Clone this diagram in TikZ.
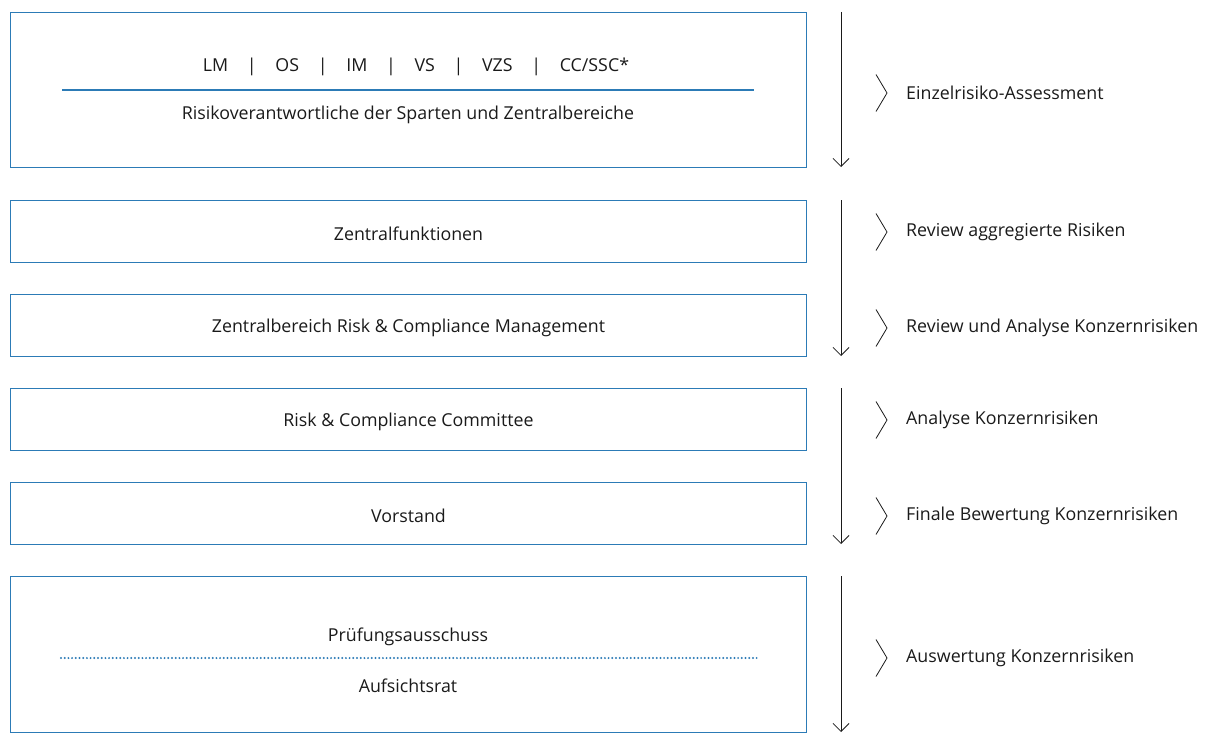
\documentclass[tikz,border=0pt]{standalone}
\usepackage{fontspec}
\setmainfont{Open Sans}
\usetikzlibrary{arrows.meta,calc}
\definecolor{boxblue}{HTML}{2C7BB6}
\definecolor{txt}{HTML}{1A1A1A}
\tikzset{
  x=1pt, y=-1pt,
  stage/.style={draw=boxblue, line width=1pt, minimum width=796pt, anchor=north west, inner sep=0pt},
  lbl/.style={text=txt, font=\fontsize{17.8}{20}\selectfont, inner sep=0pt, yshift=-2pt},
  flow/.style={draw=txt, line width=0.8pt, -{Straight Barb[length=8pt, width=16pt, line width=0.8pt]}},
  chev/.style={draw=txt, line width=0.8pt}
}
\newcommand{\chevron}[1]{\draw[chev] ($(#1.west)+(-30,-18.5)$) -- ++(11,18.5) -- ++(-11,18.5);}
\newcommand{\sep}{\hspace{1.05em}|\hspace{1.05em}}
\begin{document}
\begin{tikzpicture}
\useasboundingbox (0,0) rectangle (1206,752);
% boxes
\node[stage, minimum height=155pt] (b1) at (10,12) {};
\node[stage, minimum height=62pt] (b2) at (10,200) {};
\node[stage, minimum height=62pt] (b3) at (10,294) {};
\node[stage, minimum height=62pt] (b4) at (10,388) {};
\node[stage, minimum height=62pt] (b5) at (10,482) {};
\node[stage, minimum height=156pt] (b6) at (10,576) {};
% box texts
\node[lbl] (t1a) at (416,65) {LM\sep OS\sep IM\sep VS\sep VZS\sep CC/SSC*};
\coordinate (l1a) at (62,90);
\coordinate (l1b) at (754,90);
\draw[boxblue, line width=1.2pt] (l1a) -- (l1b);
\node[lbl] (t1b) at (408,113) {Risikoverantwortliche der Sparten und Zentralbereiche};
\node[lbl] (t2) at (b2.center) {Zentralfunktionen};
\node[lbl] (t3) at (b3.center) {Zentralbereich Risk \& Compliance Management};
\node[lbl] (t4) at (b4.center) {Risk \& Compliance Committee};
\node[lbl] (t5) at (b5.center) {Vorstand};
\node[lbl] (t6a) at (408,635) {Prüfungsausschuss};
\coordinate (l6a) at (61,658);
\coordinate (l6b) at (757,658);
\draw[boxblue, line width=2.2pt, line cap=round, dash pattern=on 0pt off 3.7pt] (l6a) -- (l6b);
\node[lbl] (t6b) at (408,684) {Aufsichtsrat};
% arrows
\coordinate (a1s) at (841,12);  \coordinate (a1e) at (841,167);
\coordinate (a2s) at (841,200); \coordinate (a2e) at (841,356);
\coordinate (a3s) at (841,388); \coordinate (a3e) at (841,544);
\coordinate (a4s) at (841,576); \coordinate (a4e) at (841,732);
\draw[flow] (a1s) -- (a1e);
\draw[flow] (a2s) -- (a2e);
\draw[flow] (a3s) -- (a3e);
\draw[flow] (a4s) -- (a4e);
% side labels
\node[lbl, anchor=west] (s1) at (906,91) {Einzelrisiko-Assessment};
\node[lbl, anchor=west] (s2) at (906,230) {Review aggregierte Risiken};
\node[lbl, anchor=west] (s3) at (906,326) {Review und Analyse Konzernrisiken};
\node[lbl, anchor=west] (s4) at (906,418) {Analyse Konzernrisiken};
\node[lbl, anchor=west] (s5) at (906,514) {Finale Bewertung Konzernrisiken};
\node[lbl, anchor=west] (s6) at (906,656) {Auswertung Konzernrisiken};
\chevron{s1}\chevron{s2}\chevron{s3}\chevron{s4}\chevron{s5}\chevron{s6}
\end{tikzpicture}
\end{document}
